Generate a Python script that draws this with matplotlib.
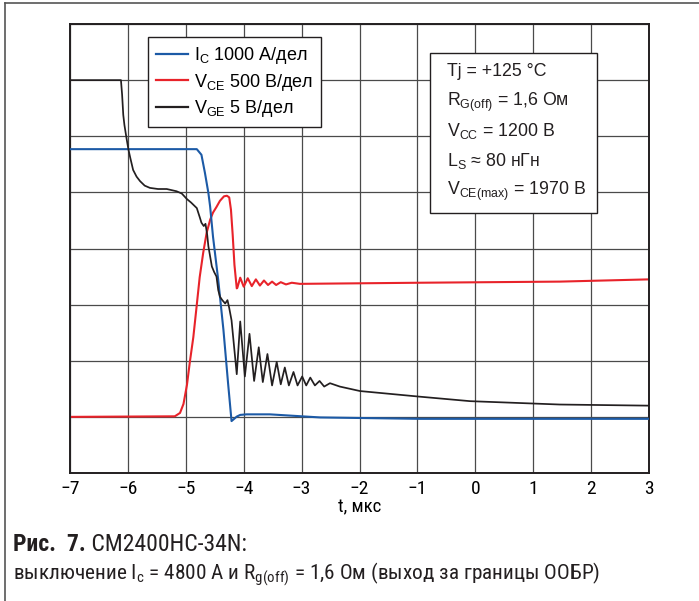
import matplotlib
matplotlib.use("Agg")
import matplotlib.pyplot as plt
from matplotlib import font_manager
from matplotlib.lines import Line2D
from matplotlib.patches import Rectangle

# ---------------- data ----------------
# time, us
t_ic = [-7.0, -4.81, -4.73, -4.67, -4.61, -4.58, -4.53, -4.44, -4.35, -4.27,
        -4.21, -4.12, -4.06, -3.95, -3.55, -2.68, -0.96, 3.0]
# collector current, A
ic_A = [4770, 4770, 4670, 4350, 3990, 3750, 3210, 2440, 1550, 600,
        -75, 5, 35, 45, 45, -10, -35, -35]

t_vce = [-7.0, -5.19, -5.10, -5.04, -4.98, -4.93, -4.87, -4.81, -4.76, -4.70,
         -4.64, -4.58, -4.53, -4.47, -4.41, -4.34, -4.29, -4.25, -4.22, -4.19,
         -4.16, -4.12, -4.11, -4.06, -4.00, -3.93, -3.86, -3.79, -3.72, -3.65,
         -3.58, -3.51, -3.44, -3.36, -3.27, -3.17, -3.03, -0.96, 1.46, 3.0]
# collector-emitter voltage, V
vce_V = [0, 5, 35, 115, 285, 490, 710, 1000, 1245, 1460,
         1640, 1755, 1820, 1870, 1925, 1965, 1970, 1955, 1845, 1620,
         1355, 1145, 1150, 1240, 1160, 1235, 1165, 1225, 1170, 1215,
         1175, 1205, 1175, 1200, 1180, 1195, 1185, 1195, 1205, 1225]

t_vge = [-7.0, -6.12, -6.10, -6.08, -6.06, -6.02, -5.99, -5.96, -5.91, -5.85,
         -5.79, -5.71, -5.62, -5.48, -5.33, -5.16, -5.07, -4.98, -4.91, -4.81,
         -4.76, -4.73, -4.69, -4.66, -4.63, -4.61, -4.55, -4.51, -4.47, -4.44,
         -4.41, -4.37, -4.32, -4.28, -4.25, -4.21, -4.12, -4.06, -3.98, -3.90,
         -3.82, -3.74, -3.67, -3.59, -3.51, -3.43, -3.36, -3.29, -3.22, -3.14,
         -3.07, -2.99, -2.92, -2.85, -2.77, -2.69, -2.61, -2.51, -2.34, -1.99,
         -0.96, -0.09, 1.46, 3.0]
# gate-emitter voltage, V
vge_V = [15.0, 15.0, 13.7, 11.9, 11.0, 9.7, 8.8, 8.1, 7.0, 6.4,
         6.0, 5.6, 5.4, 5.3, 5.3, 5.1, 4.9, 4.4, 4.1, 3.6,
         2.8, 2.3, 2.0, 2.2, 1.2, 0.2, -1.6, -2.1, -2.5, -3.7,
         -4.3, -4.6, -4.9, -4.6, -5.3, -6.4, -11.2, -6.5, -11.4, -7.6,
         -11.8, -8.8, -11.9, -9.4, -12.2, -10.1, -12.1, -10.6, -12.2, -11.0,
         -12.2, -11.4, -12.2, -11.5, -12.2, -11.8, -12.3, -12.0, -12.3, -12.7,
         -13.2, -13.6, -13.9, -14.0]

# scope channel settings: units per division and zero level (in divisions)
ic_per_div, ic_zero = 1000.0, 1.0
vce_per_div, vce_zero = 500.0, 1.0
vge_per_div, vge_zero = 5.0, 4.0

x_ticks = [-7, -6, -5, -4, -3, -2, -1, 0, 1, 2, 3]
labels = ["I$_\\mathregular{C}$ 1000 А/дел",
          "V$_\\mathregular{CE}$ 500 В/дел",
          "V$_\\mathregular{GE}$ 5 В/дел"]
conditions = ["Tj = +125 °C",
              "R$_\\mathregular{G(off)}$ = 1,6 Ом",
              "V$_\\mathregular{CC}$ = 1200 В",
              "L$_\\mathregular{S}$ ≈ 80 нГн",
              "V$_\\mathregular{CE(max)}$ = 1970 В"]
caption_bold = "Рис.  7."
caption_1 = " CM2400HC-34N:"
caption_2 = ("выключение I$_\\mathregular{c}$ = 4800 A и R$_\\mathregular{g(off)}$"
             " = 1,6 Ом (выход за границы ООБР)")

# ---------------- fonts ----------------
avail = {f.name for f in font_manager.fontManager.ttflist}
main_font = "Liberation Sans" if "Liberation Sans" in avail else "DejaVu Sans"
narrow_font = "Roboto Condensed" if "Roboto Condensed" in avail else main_font
plt.rcParams["font.family"] = [main_font, "DejaVu Sans"]
plt.rcParams["mathtext.fontset"] = "custom"
plt.rcParams["mathtext.rm"] = main_font

W, H = 699, 601
fig = plt.figure(figsize=(W / 100, H / 100), dpi=100)
fig.patch.set_facecolor("white")

def fx(px):
    return px / W

def fy(py):
    return 1 - py / H

ax = fig.add_axes([fx(70), fy(473), fx(649) - fx(70), fy(24) - fy(473)])
ax.set_xlim(-7, 3)
ax.set_ylim(0, 8)

blue = "#1c5aa6"
red = "#e8232a"
black = "#231f20"

def to_div(vals, per_div, zero):
    return [v / per_div + zero for v in vals]

l1, = ax.plot(t_ic, to_div(ic_A, ic_per_div, ic_zero), color=blue, lw=1.5, zorder=3)
l2, = ax.plot(t_vce, to_div(vce_V, vce_per_div, vce_zero), color=red, lw=1.5, zorder=2)
l3, = ax.plot(t_vge, to_div(vge_V, vge_per_div, vge_zero), color=black, lw=1.25, zorder=4)

ax.set_xticks(x_ticks)
ax.set_xticklabels([str(v).replace("-", "\u2212") for v in x_ticks],
                   fontfamily=narrow_font, fontsize=14)
ax.set_yticks(range(0, 9))
ax.set_yticklabels([])
ax.tick_params(length=0, pad=5)
ax.grid(True, color="#4a4a4a", lw=0.9)
ax.set_axisbelow(True)
for s in ax.spines.values():
    s.set_linewidth(1.4)
    s.set_color("#231f20")
ax.set_xlabel("t, мкс", fontfamily=narrow_font, fontsize=13.5, labelpad=0)

# legend
leg = ax.legend([l1, l2, l3], labels, loc="upper left",
                bbox_to_anchor=(fx(148), fy(37)), bbox_transform=fig.transFigure,
                borderaxespad=0, fancybox=False, framealpha=1, edgecolor="#231f20",
                fontsize=13, handlelength=1.75, handletextpad=0.35,
                labelspacing=0.3, borderpad=0.45)
leg.get_frame().set_linewidth(1.0)
for h in leg.get_lines():
    h.set_linewidth(1.6)

# conditions box
box = Rectangle((fx(430), fy(213)), fx(597) - fx(430), fy(53) - fy(213),
                transform=fig.transFigure, facecolor="white", edgecolor="#231f20",
                lw=1.0, zorder=5)
fig.add_artist(box)
ys = [72, 102, 131, 161, 191]
for s, yy in zip(conditions, ys):
    fig.text(fx(447), fy(yy), s, fontsize=12.8, va="center", ha="left",
             color="#231f20", zorder=6)

# outer frame
fig.add_artist(Line2D([fx(5), fx(5)], [fy(3), 0], transform=fig.transFigure,
                      color="#555555", lw=1.2))
fig.add_artist(Line2D([fx(5), 1], [fy(3), fy(3)], transform=fig.transFigure,
                      color="#555555", lw=1.2))

# caption
c1 = fig.text(fx(13), fy(551), caption_bold, fontfamily=narrow_font, fontweight="bold",
              fontsize=17, va="baseline", ha="left", color="#231f20")
ax.annotate(caption_1, xy=(1, 0), xycoords=c1, va="bottom", ha="left",
            fontfamily=narrow_font, fontsize=17, color="#231f20",
            annotation_clip=False)
fig.text(fx(13), fy(579), caption_2,
         fontfamily=narrow_font, fontsize=15.3, va="baseline", ha="left", color="#231f20")

fig.savefig("out.png", dpi=100, facecolor="white")
